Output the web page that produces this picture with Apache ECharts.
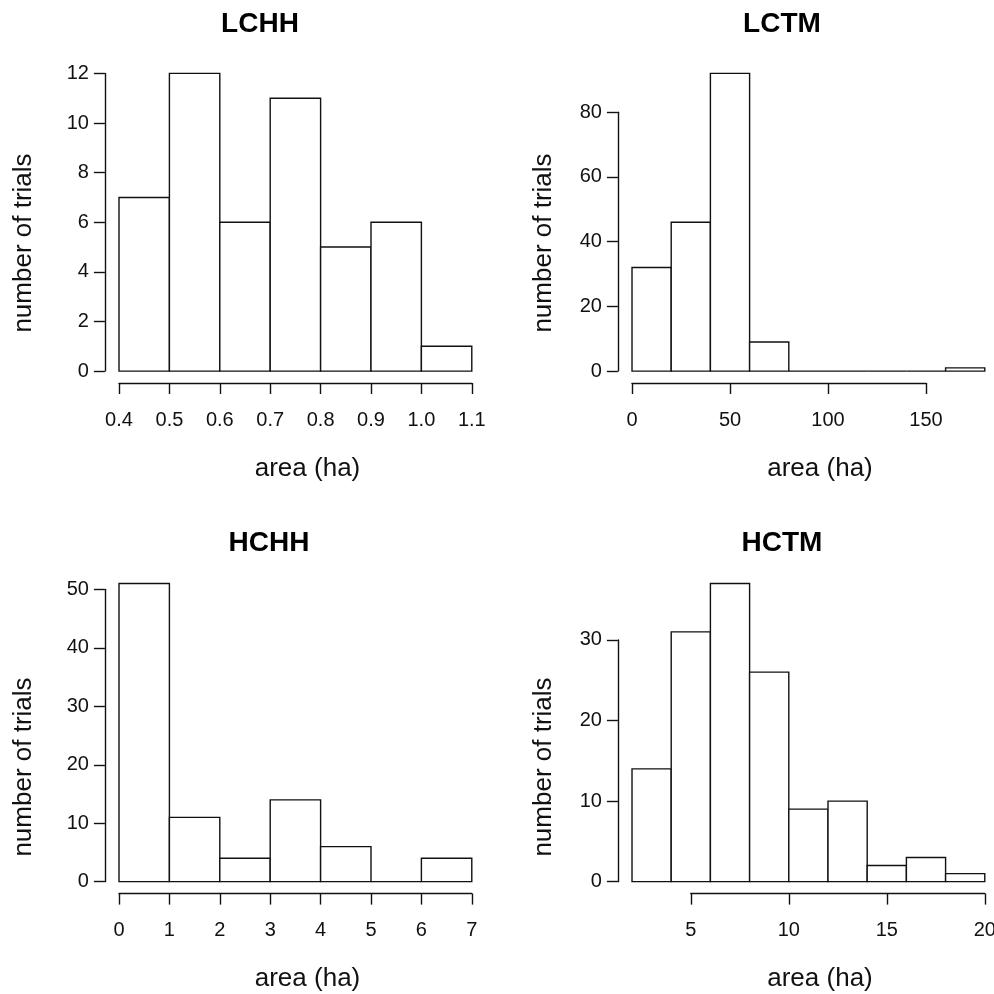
<!DOCTYPE html>
<html>
<head>
<meta charset="utf-8">
<script src="https://cdn.jsdelivr.net/npm/echarts@6/dist/echarts.min.js"></script>
<style>
  html, body { margin: 0; padding: 0; background: #fff; }
  #chart { width: 994px; height: 994px; }
</style>
</head>
<body>
<div id="chart"></div>
<script>
// Four R-style histograms (area per trial), 2x2 grid
const panelNames = ['LCHH', 'LCTM', 'HCHH', 'HCTM']

const lchhBreaks = [0.4, 0.5, 0.6, 0.7, 0.8, 0.9, 1.0, 1.1]
const lchhCounts = [7, 12, 6, 11, 5, 6, 1]
const lctmBreaks = [0, 20, 40, 60, 80, 100, 120, 140, 160, 180]
const lctmCounts = [32, 46, 92, 9, 0, 0, 0, 0, 1]
const hchhBreaks = [0, 1, 2, 3, 4, 5, 6, 7]
const hchhCounts = [51, 11, 4, 14, 6, 0, 4]
const hctmBreaks = [2, 4, 6, 8, 10, 12, 14, 16, 18, 20]
const hctmCounts = [14, 31, 37, 26, 9, 10, 2, 3, 1]

// axis ticks: [first, last, step]
const lchhXTicks = [0.4, 1.1, 0.1]
const lchhYTicks = [0, 12, 2]
const lctmXTicks = [0, 150, 50]
const lctmYTicks = [0, 80, 20]
const hchhXTicks = [0, 7, 1]
const hchhYTicks = [0, 50, 10]
const hctmXTicks = [5, 20, 5]
const hctmYTicks = [0, 30, 10]

const xLabel = 'area (ha)'
const yLabel = 'number of trials'

const breaks = [lchhBreaks, lctmBreaks, hchhBreaks, hctmBreaks]
const counts = [lchhCounts, lctmCounts, hchhCounts, hctmCounts]
const xTicks = [lchhXTicks, lctmXTicks, hchhXTicks, hctmXTicks]
const yTicks = [lchhYTicks, lctmYTicks, hchhYTicks, hctmYTicks]
const xDecimals = [1, 0, 0, 0]

// layout (plot regions, R-like 4% expansion on both axes)
const COL_LEFT = [104.9, 617.9], COL_W = 381
const ROW_BOTTOM = [383, 893.6], ROW_H = [321.5, 322]
const TITLE_POS = [[260, 24], [782, 24], [269, 543], [782, 543]]
const XLAB_POS = [[307.5, 469], [820, 469], [307.5, 979], [820, 979]]
const YLAB_POS = [[24, 243], [544, 243], [24, 767], [544, 767]]
const FONT = '"Liberation Sans", Arial, Helvetica, sans-serif'
const INK = '#111'
const LW = 1.4

const grid = [], xAxis = [], yAxis = [], series = [], graphic = []

panelNames.forEach((name, p) => {
  const col = p % 2, row = Math.floor(p / 2)
  const b = breaks[p], c = counts[p]
  const span = b[b.length - 1] - b[0]
  const xmin = b[0] - 0.04 * span, xmax = b[b.length - 1] + 0.04 * span
  const ymax = Math.max(...c)
  const ymin0 = -0.04 * ymax, ymax0 = 1.04 * ymax
  const left = COL_LEFT[col], width = COL_W
  const bottom = ROW_BOTTOM[row], height = ROW_H[row], top = bottom - height
  const xpx = v => left + (v - xmin) / (xmax - xmin) * width
  const ypx = v => bottom - (v - ymin0) / (ymax0 - ymin0) * height

  // data grid (hidden axes)
  const gi = grid.length
  grid.push({ left, top, width, height, containLabel: false, outerBoundsMode: 'none' })
  xAxis.push({ gridIndex: gi, type: 'value', min: xmin, max: xmax, show: false })
  yAxis.push({ gridIndex: gi, type: 'value', min: ymin0, max: ymax0, show: false })
  series.push({
    type: 'custom', xAxisIndex: gi, yAxisIndex: gi,
    data: c.map((n, i) => [b[i], b[i + 1], n]),
    encode: { x: [0, 1], y: 2 },
    renderItem: (params, api) => {
      const p0 = api.coord([api.value(0), 0])
      const p1 = api.coord([api.value(1), api.value(2)])
      return {
        type: 'rect',
        shape: { x: p0[0], y: p1[1], width: p1[0] - p0[0], height: p0[1] - p1[1] },
        style: { fill: '#fff', stroke: INK, lineWidth: LW }
      }
    },
    silent: true, animation: false
  })

  const axisStyle = {
    axisLine: { show: true, lineStyle: { color: INK, width: LW } },
    axisTick: { show: true, length: 11, lineStyle: { color: INK, width: LW } },
    splitLine: { show: false }
  }

  // x axis, detached below the plot, spanning only the tick range
  const xt = xTicks[p]
  const gx = grid.length
  grid.push({ left: xpx(xt[0]), width: xpx(xt[1]) - xpx(xt[0]), top: bottom - 1, height: 1,
    containLabel: false, outerBoundsMode: 'none' })
  xAxis.push(Object.assign({
    gridIndex: gx, type: 'value', position: 'bottom', min: xt[0], max: xt[1], interval: xt[2],
    axisLabel: { color: INK, fontFamily: FONT, fontSize: 20, margin: 27, showMinLabel: true, showMaxLabel: true,
      formatter: v => v.toFixed(xDecimals[p]) }
  }, axisStyle))
  yAxis.push({ gridIndex: gx, type: 'value', show: false })

  // y axis at the left edge of the plot region
  const yt = yTicks[p]
  const gy = grid.length
  grid.push({ left: left, width: 1, top: ypx(yt[1]), height: ypx(yt[0]) - ypx(yt[1]),
    containLabel: false, outerBoundsMode: 'none' })
  xAxis.push({ gridIndex: gy, type: 'value', show: false })
  yAxis.push(Object.assign({
    gridIndex: gy, type: 'value', position: 'left', min: yt[0], max: yt[1], interval: yt[2],
    axisLabel: { color: INK, fontFamily: FONT, fontSize: 20, margin: 16, showMinLabel: true, showMaxLabel: true }
  }, axisStyle))

  graphic.push({
    type: 'text', x: TITLE_POS[p][0], y: TITLE_POS[p][1],
    style: { text: name, font: 'bold 28px ' + FONT, fill: '#000', align: 'center', verticalAlign: 'middle' }
  })
  graphic.push({
    type: 'text', x: XLAB_POS[p][0], y: XLAB_POS[p][1],
    style: { text: xLabel, font: '26px ' + FONT, fill: INK, align: 'center', verticalAlign: 'middle' }
  })
  graphic.push({
    type: 'text', x: YLAB_POS[p][0], y: YLAB_POS[p][1], rotation: Math.PI / 2,
    style: { text: yLabel, font: '26px ' + FONT, fill: INK, align: 'center', verticalAlign: 'middle' }
  })
})

const chart = echarts.init(document.getElementById('chart'), null, { renderer: 'canvas' })
chart.setOption({ backgroundColor: '#fff', animation: false, grid, xAxis, yAxis, series, graphic })
</script>
</body>
</html>
